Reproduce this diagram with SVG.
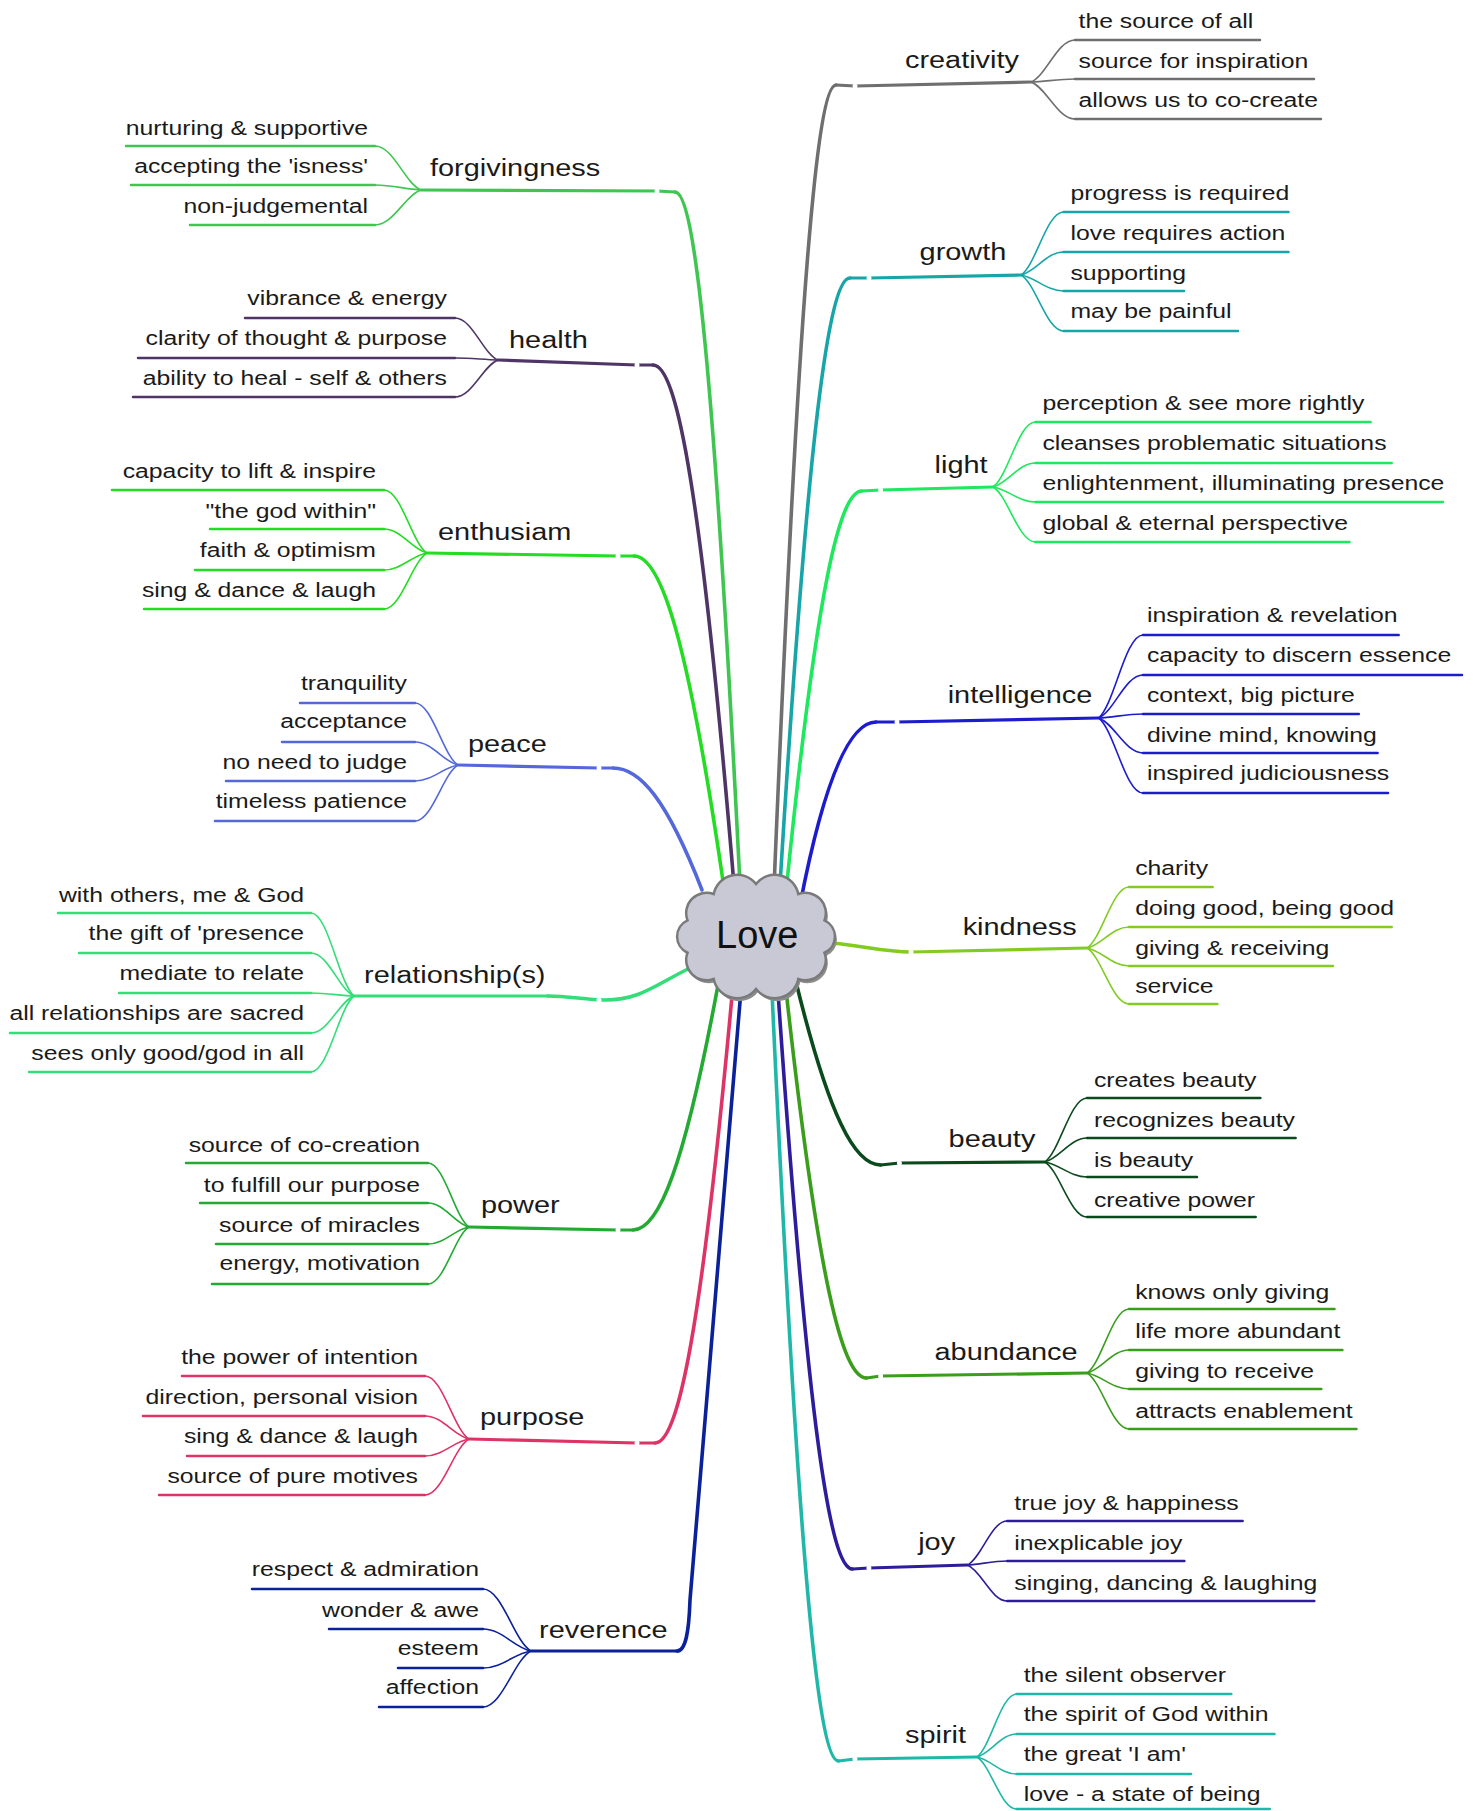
<svg xmlns="http://www.w3.org/2000/svg" width="1475" height="1811" viewBox="0 0 1475 1811">
<style>
.s{font-family:"Liberation Sans",Arial,sans-serif;font-size:21px;fill:#1a1a1a;stroke:none;transform:scaleX(1.18)}
.tp{font-family:"Liberation Sans",Arial,sans-serif;font-size:24.5px;fill:#1a1a1a;stroke:none;transform:scaleX(1.18)}
.e{text-anchor:end}
.u{fill:none;stroke-width:2.5;stroke-linecap:round}
.tu{fill:none;stroke-width:3.2;stroke-linecap:round;stroke-linejoin:round}
.br{fill:none;stroke-width:3.6;stroke-linecap:round;stroke-linejoin:round}
.f{fill:none;stroke-width:1.6}
.d{fill:#fff;stroke:none}
</style>
<rect width="1475" height="1811" fill="#fff"/>

<!-- LEFT TOPICS -->
<g id="n-forgivingness" stroke="#3ec650"><polyline class="tu" points="421,190 657,191 675,192"/><text class="tp" x="364.4" y="176">forgivingness</text></g>
<g id="s-forgivingness-1" stroke="#3ec650"><path class="u" d="M126,146H375"/><text class="s e" x="311.9" y="135">nurturing &amp; supportive</text></g>
<g id="s-forgivingness-2" stroke="#3ec650"><path class="u" d="M131,185H375"/><text class="s e" x="311.9" y="173">accepting the 'isness'</text></g>
<g id="s-forgivingness-3" stroke="#3ec650"><path class="u" d="M190,225H375"/><text class="s e" x="311.9" y="213">non-judgemental</text></g>

<g id="n-health" stroke="#4e3566"><polyline class="tu" points="498,360 637,365 653,365"/><text class="tp" x="431.4" y="348">health</text></g>
<g id="s-health-1" stroke="#4e3566"><path class="u" d="M245,318H455"/><text class="s e" x="378.8" y="305">vibrance &amp; energy</text></g>
<g id="s-health-2" stroke="#4e3566"><path class="u" d="M138,358H455"/><text class="s e" x="378.8" y="345">clarity of thought &amp; purpose</text></g>
<g id="s-health-3" stroke="#4e3566"><path class="u" d="M133,397H455"/><text class="s e" x="378.8" y="385">ability to heal - self &amp; others</text></g>

<g id="n-enthusiam" stroke="#22dd22"><polyline class="tu" points="427,553 618,556 634,556"/><text class="tp" x="371.2" y="540">enthusiam</text></g>
<g id="s-enthusiam-1" stroke="#22dd22"><path class="u" d="M112,490H384"/><text class="s e" x="318.6" y="478">capacity to lift &amp; inspire</text></g>
<g id="s-enthusiam-2" stroke="#22dd22"><path class="u" d="M210,529H384"/><text class="s e" x="318.6" y="518">&quot;the god within&quot;</text></g>
<g id="s-enthusiam-3" stroke="#22dd22"><path class="u" d="M195,570H384"/><text class="s e" x="318.6" y="557">faith &amp; optimism</text></g>
<g id="s-enthusiam-4" stroke="#22dd22"><path class="u" d="M144,609H384"/><text class="s e" x="318.6" y="597">sing &amp; dance &amp; laugh</text></g>

<g id="n-peace" stroke="#5468dc"><polyline class="tu" points="458,765 599,768 613,768"/><text class="tp" x="396.6" y="752">peace</text></g>
<g id="s-peace-1" stroke="#5468dc"><path class="u" d="M300,703H415"/><text class="s e" x="344.9" y="690">tranquility</text></g>
<g id="s-peace-2" stroke="#5468dc"><path class="u" d="M282,742H415"/><text class="s e" x="344.9" y="728">acceptance</text></g>
<g id="s-peace-3" stroke="#5468dc"><path class="u" d="M226,781H415"/><text class="s e" x="344.9" y="769">no need to judge</text></g>
<g id="s-peace-4" stroke="#5468dc"><path class="u" d="M215,821H415"/><text class="s e" x="344.9" y="808">timeless patience</text></g>

<g id="n-relationships" stroke="#33dd77"><polyline class="tu" points="354,996 548,996"/><text class="tp" x="308.5" y="983">relationship(s)</text></g>
<g id="s-relationships-1" stroke="#33dd77"><path class="u" d="M58,913H311"/><text class="s e" x="257.6" y="902">with others, me &amp; God</text></g>
<g id="s-relationships-2" stroke="#33dd77"><path class="u" d="M79,953H311"/><text class="s e" x="257.6" y="940">the gift of 'presence</text></g>
<g id="s-relationships-3" stroke="#33dd77"><path class="u" d="M119,993H311"/><text class="s e" x="257.6" y="980">mediate to relate</text></g>
<g id="s-relationships-4" stroke="#33dd77"><path class="u" d="M10,1033H311"/><text class="s e" x="257.6" y="1020">all relationships are sacred</text></g>
<g id="s-relationships-5" stroke="#33dd77"><path class="u" d="M29,1072H311"/><text class="s e" x="257.6" y="1060">sees only good/god in all</text></g>

<g id="n-power" stroke="#22aa33"><polyline class="tu" points="469,1227 618,1230 633,1230"/><text class="tp" x="407.6" y="1213">power</text></g>
<g id="s-power-1" stroke="#22aa33"><path class="u" d="M186,1163H428"/><text class="s e" x="355.9" y="1152">source of co-creation</text></g>
<g id="s-power-2" stroke="#22aa33"><path class="u" d="M200,1203H428"/><text class="s e" x="355.9" y="1192">to fulfill our purpose</text></g>
<g id="s-power-3" stroke="#22aa33"><path class="u" d="M216,1244H428"/><text class="s e" x="355.9" y="1232">source of miracles</text></g>
<g id="s-power-4" stroke="#22aa33"><path class="u" d="M212,1284H428"/><text class="s e" x="355.9" y="1270">energy, motivation</text></g>

<g id="n-purpose" stroke="#dd3366"><polyline class="tu" points="469,1439 637,1443 655,1443"/><text class="tp" x="406.8" y="1425">purpose</text></g>
<g id="s-purpose-1" stroke="#dd3366"><path class="u" d="M182,1376H425"/><text class="s e" x="354.2" y="1364">the power of intention</text></g>
<g id="s-purpose-2" stroke="#dd3366"><path class="u" d="M143,1416H425"/><text class="s e" x="354.2" y="1404">direction, personal vision</text></g>
<g id="s-purpose-3" stroke="#dd3366"><path class="u" d="M187,1456H425"/><text class="s e" x="354.2" y="1443">sing &amp; dance &amp; laugh</text></g>
<g id="s-purpose-4" stroke="#dd3366"><path class="u" d="M159,1495H425"/><text class="s e" x="354.2" y="1483">source of pure motives</text></g>

<g id="n-reverence" stroke="#0a2199"><polyline class="tu" points="531,1651 677,1651" stroke-width="4"/><text class="tp" x="456.8" y="1638">reverence</text></g>
<g id="s-reverence-1" stroke="#0a2199"><path class="u" d="M252,1589H483" stroke-width="3.2"/><text class="s e" x="405.9" y="1576">respect &amp; admiration</text></g>
<g id="s-reverence-2" stroke="#0a2199"><path class="u" d="M329,1629H483" stroke-width="3.2"/><text class="s e" x="405.9" y="1617">wonder &amp; awe</text></g>
<g id="s-reverence-3" stroke="#0a2199"><path class="u" d="M398,1668H483" stroke-width="3.2"/><text class="s e" x="405.9" y="1655">esteem</text></g>
<g id="s-reverence-4" stroke="#0a2199"><path class="u" d="M379,1707H483" stroke-width="3.2"/><text class="s e" x="405.9" y="1694">affection</text></g>

<!-- RIGHT TOPICS -->
<g id="n-creativity" stroke="#6f6f6f"><polyline class="tu" points="1031,82 855,86 836,85"/><text class="tp" x="766.9" y="68">creativity</text></g>
<g id="s-creativity-1" stroke="#6f6f6f"><path class="u" d="M1075,40H1260"/><text class="s" x="914" y="28">the source of all</text></g>
<g id="s-creativity-2" stroke="#6f6f6f"><path class="u" d="M1075,79H1314"/><text class="s" x="914" y="68">source for inspiration</text></g>
<g id="s-creativity-3" stroke="#6f6f6f"><path class="u" d="M1075,119H1321"/><text class="s" x="914" y="107">allows us to co-create</text></g>

<g id="n-growth" stroke="#17a5a8"><polyline class="tu" points="1021,275 869,278 850,278"/><text class="tp" x="779.3" y="260">growth</text></g>
<g id="s-growth-1" stroke="#17a5a8"><path class="u" d="M1063.5,212H1288.5"/><text class="s" x="907.2" y="200">progress is required</text></g>
<g id="s-growth-2" stroke="#17a5a8"><path class="u" d="M1063.5,252H1288.5"/><text class="s" x="907.2" y="240">love requires action</text></g>
<g id="s-growth-3" stroke="#17a5a8"><path class="u" d="M1063.5,291H1184"/><text class="s" x="907.2" y="280">supporting</text></g>
<g id="s-growth-4" stroke="#17a5a8"><path class="u" d="M1063.5,331H1238"/><text class="s" x="907.2" y="318">may be painful</text></g>

<g id="n-light" stroke="#1de85e"><polyline class="tu" points="993,487 880.6,490 862,491"/><text class="tp" x="792" y="473">light</text></g>
<g id="s-light-1" stroke="#1de85e"><path class="u" d="M1035.4,422H1370.6"/><text class="s" x="883.4" y="410">perception &amp; see more rightly</text></g>
<g id="s-light-2" stroke="#1de85e"><path class="u" d="M1035.4,463H1391.7"/><text class="s" x="883.4" y="450">cleanses problematic situations</text></g>
<g id="s-light-3" stroke="#1de85e"><path class="u" d="M1035.4,502H1443"/><text class="s" x="883.4" y="490">enlightenment, illuminating presence</text></g>
<g id="s-light-4" stroke="#1de85e"><path class="u" d="M1035.4,542H1349.5"/><text class="s" x="883.4" y="530">global &amp; eternal perspective</text></g>

<g id="n-intelligence" stroke="#1c1ccc"><polyline class="tu" points="1098.6,718 897,722 876,722"/><text class="tp" x="803.1" y="703">intelligence</text></g>
<g id="s-intelligence-1" stroke="#1c1ccc"><path class="u" d="M1143,635H1398.7"/><text class="s" x="972" y="622">inspiration &amp; revelation</text></g>
<g id="s-intelligence-2" stroke="#1c1ccc"><path class="u" d="M1143,675H1462"/><text class="s" x="972" y="662">capacity to discern essence</text></g>
<g id="s-intelligence-3" stroke="#1c1ccc"><path class="u" d="M1143,714H1358.8"/><text class="s" x="972" y="702">context, big picture</text></g>
<g id="s-intelligence-4" stroke="#1c1ccc"><path class="u" d="M1143,753H1377.6"/><text class="s" x="972" y="742">divine mind, knowing</text></g>
<g id="s-intelligence-5" stroke="#1c1ccc"><path class="u" d="M1143,793H1388"/><text class="s" x="972" y="780">inspired judiciousness</text></g>

<g id="n-kindness" stroke="#82cc22"><polyline class="tu" points="1087,948 911,952"/><text class="tp" x="815.8" y="935">kindness</text></g>
<g id="s-kindness-1" stroke="#82cc22"><path class="u" d="M1129,887H1212.6"/><text class="s" x="962" y="875">charity</text></g>
<g id="s-kindness-2" stroke="#82cc22"><path class="u" d="M1129,927H1391.7"/><text class="s" x="962" y="915">doing good, being good</text></g>
<g id="s-kindness-3" stroke="#82cc22"><path class="u" d="M1129,966H1333"/><text class="s" x="962" y="955">giving &amp; receiving</text></g>
<g id="s-kindness-4" stroke="#82cc22"><path class="u" d="M1129,1004H1217.3"/><text class="s" x="962" y="993">service</text></g>

<g id="n-beauty" stroke="#0b4a1c"><polyline class="tu" points="1044.7,1162 899.4,1163 880.6,1165"/><text class="tp" x="803.9" y="1147">beauty</text></g>
<g id="s-beauty-1" stroke="#0b4a1c"><path class="u" d="M1087,1098H1260.4"/><text class="s" x="927.1" y="1087">creates beauty</text></g>
<g id="s-beauty-2" stroke="#0b4a1c"><path class="u" d="M1087,1138H1295.6"/><text class="s" x="927.1" y="1127">recognizes beauty</text></g>
<g id="s-beauty-3" stroke="#0b4a1c"><path class="u" d="M1087,1177H1197"/><text class="s" x="927.1" y="1167">is beauty</text></g>
<g id="s-beauty-4" stroke="#0b4a1c"><path class="u" d="M1087,1217H1255.7"/><text class="s" x="927.1" y="1207">creative power</text></g>

<g id="n-abundance" stroke="#3a9e1c"><polyline class="tu" points="1087,1373 880.6,1376 866.6,1378"/><text class="tp" x="792" y="1360">abundance</text></g>
<g id="s-abundance-1" stroke="#3a9e1c"><path class="u" d="M1129,1309H1334.5"/><text class="s" x="962" y="1299">knows only giving</text></g>
<g id="s-abundance-2" stroke="#3a9e1c"><path class="u" d="M1129,1350H1342.4"/><text class="s" x="962" y="1338">life more abundant</text></g>
<g id="s-abundance-3" stroke="#3a9e1c"><path class="u" d="M1129,1389H1321.3"/><text class="s" x="962" y="1378">giving to receive</text></g>
<g id="s-abundance-4" stroke="#3a9e1c"><path class="u" d="M1129,1429H1356.5"/><text class="s" x="962" y="1418">attracts enablement</text></g>

<g id="n-joy" stroke="#2d1d9c"><polyline class="tu" points="967.4,1565 868.9,1568 852.5,1569"/><text class="tp" x="778.1" y="1550">joy</text></g>
<g id="s-joy-1" stroke="#2d1d9c"><path class="u" d="M1007.2,1521H1242.6"/><text class="s" x="859.6" y="1510">true joy &amp; happiness</text></g>
<g id="s-joy-2" stroke="#2d1d9c"><path class="u" d="M1007.2,1561H1184.4"/><text class="s" x="859.6" y="1550">inexplicable joy</text></g>
<g id="s-joy-3" stroke="#2d1d9c"><path class="u" d="M1007.2,1601H1314.3"/><text class="s" x="859.6" y="1590">singing, dancing &amp; laughing</text></g>

<g id="n-spirit" stroke="#1fb8a8"><polyline class="tu" points="976.8,1757 854.9,1759 838.5,1761"/><text class="tp" x="766.9" y="1743">spirit</text></g>
<g id="s-spirit-1" stroke="#1fb8a8"><path class="u" d="M1016.6,1694H1231.3"/><text class="s" x="867.5" y="1682">the silent observer</text></g>
<g id="s-spirit-2" stroke="#1fb8a8"><path class="u" d="M1016.6,1734H1274.5"/><text class="s" x="867.5" y="1721">the spirit of God within</text></g>
<g id="s-spirit-3" stroke="#1fb8a8"><path class="u" d="M1016.6,1774H1191"/><text class="s" x="867.5" y="1761">the great 'I am'</text></g>
<g id="s-spirit-4" stroke="#1fb8a8"><path class="u" d="M1016.6,1809H1269.8"/><text class="s" x="867.5" y="1801">love - a state of being</text></g>

<g id="connectors">
<!-- branches -->
<path class="br" stroke="#3ec650" d="M675,192C694.5,192 714,365.2 740,885"/>
<path class="br" stroke="#4e3566" d="M653,365C677.3,365 701.6,495 734,885"/>
<path class="br" stroke="#22dd22" d="M634,556C661,556 688,639 724,888"/>
<path class="br" stroke="#5468dc" d="M613,768C639.7,768 666.4,798.5 702,890"/>
<path class="br" stroke="#33dd77" d="M548,996C570,996 585,1000 605,1000C640,1000 655,985 690,968"/>
<path class="br" stroke="#22aa33" d="M633,1230C658.5,1230 684,1168.8 718,985"/>
<path class="br" stroke="#dd3366" d="M655,1443C678.4,1443 701.8,1328.5 733,985"/>
<path class="br" stroke="#0a2199" d="M677,1651C686,1651 689,1630 690,1600L741,990"/>
<path class="br" stroke="#6f6f6f" d="M836,85C817.4,85 798.8,285.8 774,888"/>
<path class="br" stroke="#17a5a8" d="M850,278C829,278 808,429.8 780,885"/>
<path class="br" stroke="#1de85e" d="M862,491C839.5,491 817,588.8 787,882"/>
<path class="br" stroke="#1c1ccc" d="M876,722C852,722 826,770 800,905"/>
<path class="br" stroke="#82cc22" d="M911,952C880,952 858,944 818,942"/>
<path class="br" stroke="#0b4a1c" d="M880.6,1165C854.9,1165 829.2,1118.2 795,978"/>
<path class="br" stroke="#3a9e1c" d="M866.6,1378C842.4,1378 818.2,1281 786,990"/>
<path class="br" stroke="#2d1d9c" d="M852.5,1569C830.2,1569 807.8,1424.8 778,992"/>
<path class="br" stroke="#1fb8a8" d="M838.5,1761C818.5,1761 798.6,1568.8 772,992"/>
<!-- fans -->
<g class="f" stroke="#3ec650" fill="none"><path d="M375,146C393.4,146 404.9,183.4 421,190"/><path d="M375,185C393.4,185 404.9,189.2 421,190"/><path d="M375,225C393.4,225 404.9,195.2 421,190"/></g>
<g class="f" stroke="#4e3566" fill="none"><path d="M455,318C472.2,318 483,353.7 498,360"/><path d="M455,358C472.2,358 483,359.7 498,360"/><path d="M455,397C472.2,397 483,365.5 498,360"/></g>
<g class="f" stroke="#22dd22" fill="none"><path d="M384,490C401.2,490 412,543.5 427,553"/><path d="M384,529C401.2,529 412,549.4 427,553"/><path d="M384,570C401.2,570 412,555.5 427,553"/><path d="M384,609C401.2,609 412,561.4 427,553"/></g>
<g class="f" stroke="#5468dc" fill="none"><path d="M415,703C432.2,703 443,755.7 458,765"/><path d="M415,742C432.2,742 443,761.5 458,765"/><path d="M415,781C432.2,781 443,767.4 458,765"/><path d="M415,821C432.2,821 443,773.4 458,765"/></g>
<g class="f" stroke="#33dd77" fill="none"><path d="M311,913C328.2,913 339,983.5 354,996"/><path d="M311,953C328.2,953 339,989.5 354,996"/><path d="M311,993C328.2,993 339,995.5 354,996"/><path d="M311,1033C328.2,1033 339,1001.5 354,996"/><path d="M311,1072C328.2,1072 339,1007.4 354,996"/></g>
<g class="f" stroke="#22aa33" fill="none"><path d="M428,1163C444.4,1163 454.6,1217.4 469,1227"/><path d="M428,1203C444.4,1203 454.6,1223.4 469,1227"/><path d="M428,1244C444.4,1244 454.6,1229.5 469,1227"/><path d="M428,1284C444.4,1284 454.6,1235.5 469,1227"/></g>
<g class="f" stroke="#dd3366" fill="none"><path d="M425,1376C442.6,1376 453.6,1429.5 469,1439"/><path d="M425,1416C442.6,1416 453.6,1435.5 469,1439"/><path d="M425,1456C442.6,1456 453.6,1441.5 469,1439"/><path d="M425,1495C442.6,1495 453.6,1447.4 469,1439"/></g>
<g class="f" stroke="#0a2199" fill="none" stroke-width="2.4"><path d="M483,1589C502.2,1589 514.2,1641.7 531,1651"/><path d="M483,1629C502.2,1629 514.2,1647.7 531,1651"/><path d="M483,1668C502.2,1668 514.2,1653.5 531,1651"/><path d="M483,1707C502.2,1707 514.2,1659.4 531,1651"/></g>
<g class="f" stroke="#6f6f6f" fill="none"><path d="M1075,40C1057.4,40 1046.4,75.7 1031,82"/><path d="M1075,79C1057.4,79 1046.4,81.5 1031,82"/><path d="M1075,119C1057.4,119 1046.4,87.5 1031,82"/></g>
<g class="f" stroke="#17a5a8" fill="none"><path d="M1063.5,212C1046.5,212 1035.9,265.5 1021,275"/><path d="M1063.5,252C1046.5,252 1035.9,271.5 1021,275"/><path d="M1063.5,291C1046.5,291 1035.9,277.4 1021,275"/><path d="M1063.5,331C1046.5,331 1035.9,283.4 1021,275"/></g>
<g class="f" stroke="#1de85e" fill="none"><path d="M1035.4,422C1018.4,422 1007.8,477.2 993,487"/><path d="M1035.4,463C1018.4,463 1007.8,483.4 993,487"/><path d="M1035.4,502C1018.4,502 1007.8,489.2 993,487"/><path d="M1035.4,542C1018.4,542 1007.8,495.2 993,487"/></g>
<g class="f" stroke="#1c1ccc" fill="none"><path d="M1143,635C1125.2,635 1114.1,705.5 1098.6,718"/><path d="M1143,675C1125.2,675 1114.1,711.5 1098.6,718"/><path d="M1143,714C1125.2,714 1114.1,717.4 1098.6,718"/><path d="M1143,753C1125.2,753 1114.1,723.2 1098.6,718"/><path d="M1143,793C1125.2,793 1114.1,729.2 1098.6,718"/></g>
<g class="f" stroke="#82cc22" fill="none"><path d="M1129,887C1112.2,887 1101.7,938.8 1087,948"/><path d="M1129,927C1112.2,927 1101.7,944.8 1087,948"/><path d="M1129,966C1112.2,966 1101.7,950.7 1087,948"/><path d="M1129,1004C1112.2,1004 1101.7,956.4 1087,948"/></g>
<g class="f" stroke="#0b4a1c" fill="none"><path d="M1087,1098C1070.1,1098 1059.5,1152.4 1044.7,1162"/><path d="M1087,1138C1070.1,1138 1059.5,1158.4 1044.7,1162"/><path d="M1087,1177C1070.1,1177 1059.5,1164.2 1044.7,1162"/><path d="M1087,1217C1070.1,1217 1059.5,1170.2 1044.7,1162"/></g>
<g class="f" stroke="#3a9e1c" fill="none"><path d="M1129,1309C1112.2,1309 1101.7,1363.4 1087,1373"/><path d="M1129,1350C1112.2,1350 1101.7,1369.5 1087,1373"/><path d="M1129,1389C1112.2,1389 1101.7,1375.4 1087,1373"/><path d="M1129,1429C1112.2,1429 1101.7,1381.4 1087,1373"/></g>
<g class="f" stroke="#2d1d9c" fill="none"><path d="M1007.2,1521C991.3,1521 981.3,1558.4 967.4,1565"/><path d="M1007.2,1561C991.3,1561 981.3,1564.4 967.4,1565"/><path d="M1007.2,1601C991.3,1601 981.3,1570.4 967.4,1565"/></g>
<g class="f" stroke="#1fb8a8" fill="none"><path d="M1016.6,1694C1000.7,1694 990.7,1747.5 976.8,1757"/><path d="M1016.6,1734C1000.7,1734 990.7,1753.5 976.8,1757"/><path d="M1016.6,1774C1000.7,1774 990.7,1759.5 976.8,1757"/><path d="M1016.6,1809C1000.7,1809 990.7,1764.8 976.8,1757"/></g>
<!-- joint dots -->
<g class="d">
<circle cx="657" cy="191" r="2.5"/><circle cx="637" cy="365" r="2.5"/><circle cx="618" cy="556" r="2.5"/><circle cx="599" cy="768" r="2.5"/><circle cx="599" cy="1000" r="2.5"/><circle cx="618" cy="1230" r="2.5"/><circle cx="637" cy="1443" r="2.5"/>
<circle cx="855" cy="86" r="2.5"/><circle cx="869" cy="278" r="2.5"/><circle cx="880.6" cy="490" r="2.5"/><circle cx="897" cy="722" r="2.5"/><circle cx="911" cy="952" r="2.5"/><circle cx="899.4" cy="1163" r="2.5"/><circle cx="880.6" cy="1376" r="2.5"/><circle cx="868.9" cy="1568" r="2.5"/><circle cx="854.9" cy="1759" r="2.5"/>
</g>
</g>

<g id="n-love">
<path transform="translate(2,3)" fill="#8c8c8c" d="M687.5,920.3A20.4,20.4 0 0 1 713.7,894A23.9,23.9 0 0 1 756,884A23.9,23.9 0 0 1 798.3,894A20.4,20.4 0 0 1 824.5,920.3A17.8,17.8 0 0 1 824.5,952.7A20.4,20.4 0 0 1 798.3,979A23.9,23.9 0 0 1 756,989A23.9,23.9 0 0 1 713.7,979A20.4,20.4 0 0 1 687.5,952.7A17.8,17.8 0 0 1 687.5,920.3Z"/>
<path fill="#c9c9d6" stroke="#7a7a7a" stroke-width="2.5" d="M687.5,920.3A20.4,20.4 0 0 1 713.7,894A23.9,23.9 0 0 1 756,884A23.9,23.9 0 0 1 798.3,894A20.4,20.4 0 0 1 824.5,920.3A17.8,17.8 0 0 1 824.5,952.7A20.4,20.4 0 0 1 798.3,979A23.9,23.9 0 0 1 756,989A23.9,23.9 0 0 1 713.7,979A20.4,20.4 0 0 1 687.5,952.7A17.8,17.8 0 0 1 687.5,920.3Z"/>
<text x="716" y="948" font-family="Liberation Sans, Arial, sans-serif" font-size="38" fill="#111">Love</text>
</g>
</svg>
